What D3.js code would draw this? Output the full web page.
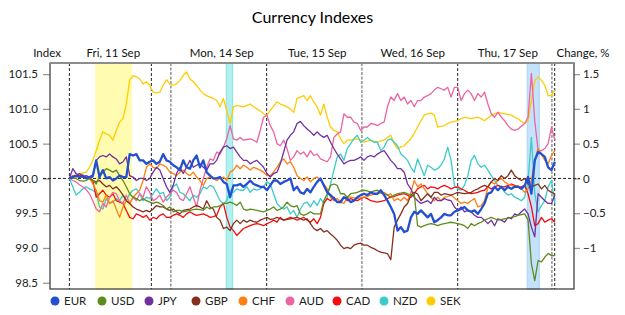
<!DOCTYPE html>
<html><head><meta charset="utf-8">
<script src="https://cdn.jsdelivr.net/npm/d3@7"></script>
<style>
html,body{margin:0;padding:0;background:#fff;}
svg{display:block;font-family:Lato,"Open Sans",sans-serif;}
</style></head>
<body><svg id="chart" width="625" height="315"></svg>
<script>
// ---------- data ----------
const currencies = ["EUR","USD","JPY","GBP","CHF","AUD","CAD","NZD","SEK"];
const seriesColors = ["#2450d0","#5e8c1c","#7030a0","#84301c","#ff7f12","#ec64a2","#f50d0d","#3ccaca","#ffcc00"];
const sampleMinutes = 50; // one value every 50 trading minutes, starting Fri 11 Sep 00:00

const EUR = [100.00,100.02,100.04,100.02,100.04,100.00,100.02,100.04,100.26,100.02,
100.12,100.00,100.02,99.97,100.00,100.04,100.02,100.02,100.35,100.33,
100.35,100.26,100.26,100.21,100.24,100.26,100.21,100.24,100.35,100.26,
100.24,100.19,100.16,100.12,100.26,100.16,100.14,100.26,100.33,100.16,
100.26,100.09,100.04,100.00,100.00,100.02,99.95,99.92,99.73,99.90,
99.90,99.92,99.88,99.92,99.97,99.92,99.90,99.88,99.88,99.83,
99.90,99.97,99.97,99.92,99.95,99.97,100.00,99.83,99.88,99.80,
99.78,99.85,99.80,99.88,99.95,100.00,99.90,99.80,99.76,99.71,
99.66,99.66,99.73,99.71,99.66,99.68,99.73,99.76,99.78,99.76,
99.80,99.78,99.78,99.83,99.76,99.68,99.59,99.49,99.25,99.30,
99.23,99.25,99.44,99.52,99.49,99.54,99.49,99.44,99.49,99.37,
99.40,99.44,99.49,99.47,99.47,99.52,99.54,99.56,99.59,99.54,
99.52,99.54,99.49,99.56,99.64,99.78,99.80,99.88,99.83,99.88,
99.83,99.88,99.85,99.88,99.88,99.85,99.90,100.02,99.78,100.26,
100.38,100.35,100.31,100.16,100.12,100.24];

const USD = [100.00,100.00,100.00,99.97,99.96,99.97,100.00,99.97,99.92,100.04,
100.09,100.14,100.12,100.09,100.12,100.04,99.97,99.88,99.78,99.73,
99.71,99.68,99.71,99.68,99.66,99.64,99.66,99.64,99.61,99.56,
99.59,99.52,99.54,99.54,99.52,99.53,99.54,99.55,99.56,99.55,
99.54,99.59,99.56,99.59,99.59,99.61,99.64,99.64,99.66,99.64,
99.61,99.66,99.56,99.54,99.56,99.55,99.54,99.53,99.52,99.54,
99.56,99.59,99.54,99.56,99.59,99.66,99.61,99.59,99.61,99.49,
99.47,99.49,99.52,99.49,99.49,99.49,99.68,99.78,99.90,99.92,
99.90,99.78,99.78,99.73,99.78,99.79,99.80,99.82,99.83,99.82,
99.80,99.82,99.83,99.80,99.78,99.76,99.73,99.76,99.78,99.79,
99.80,99.78,99.76,99.78,99.32,99.30,99.32,99.34,99.35,99.34,
99.32,99.34,99.35,99.36,99.37,99.36,99.35,99.34,99.32,99.28,
99.35,99.32,99.35,99.37,99.40,99.42,99.44,99.42,99.40,99.41,
99.42,99.43,99.44,99.45,99.47,99.48,99.49,99.40,98.77,98.53,
98.82,98.80,98.87,98.92,98.89,98.89];

const JPY = [100.00,100.14,100.07,100.04,100.02,100.04,100.02,100.02,100.26,100.31,
100.33,100.31,100.35,100.31,100.28,100.21,100.24,100.31,100.04,100.02,
99.97,100.00,100.00,99.97,100.00,100.09,100.16,100.12,100.00,99.88,
99.80,99.90,100.07,100.16,100.07,100.16,100.26,100.16,100.19,100.21,
100.16,100.12,100.21,100.21,100.26,100.38,100.45,100.47,100.43,100.45,
100.38,100.31,100.26,100.26,100.21,100.24,100.26,100.21,100.16,100.07,
100.02,100.07,100.09,100.21,100.38,100.55,100.62,100.67,100.79,100.82,
100.76,100.71,100.67,100.62,100.67,100.62,100.59,100.62,100.52,100.43,
100.35,100.28,100.21,100.24,100.26,100.26,100.28,100.31,100.26,100.31,
100.33,100.31,100.35,100.38,100.40,100.33,100.26,100.21,100.14,100.14,
100.09,99.92,99.85,99.73,99.68,99.64,99.66,99.68,99.64,99.73,
99.68,99.68,99.71,99.69,99.68,99.59,99.54,99.59,99.52,99.54,
99.52,99.47,99.44,99.44,99.40,99.35,99.40,99.32,99.42,99.40,
99.37,99.44,99.42,99.49,99.47,99.52,99.56,99.49,99.30,99.16,
99.78,99.73,99.68,99.64,99.64,99.76];

const GBP = [100.00,100.02,100.04,100.03,100.02,100.01,100.00,99.97,99.95,99.97,
99.92,99.88,99.90,99.85,99.88,99.83,99.76,99.68,99.64,99.59,
99.56,99.54,99.52,99.54,99.52,99.56,99.61,99.59,99.59,99.56,
99.54,99.56,99.52,99.49,99.54,99.55,99.56,99.59,99.61,99.59,
99.56,99.68,99.59,99.56,99.44,99.40,99.28,99.30,99.25,99.35,
99.40,99.35,99.40,99.37,99.40,99.38,99.37,99.40,99.42,99.44,
99.41,99.42,99.44,99.42,99.40,99.41,99.42,99.43,99.44,99.42,
99.40,99.42,99.35,99.28,99.25,99.28,99.23,99.25,99.20,99.16,
99.11,99.04,98.99,99.01,98.99,99.04,99.06,99.07,99.04,99.04,
99.01,98.99,98.96,98.94,98.93,98.92,98.83,99.30,99.40,99.49,
99.59,99.64,99.76,99.80,99.78,99.68,99.73,99.78,99.73,99.80,
99.80,99.76,99.78,99.77,99.76,99.78,99.80,99.79,99.78,99.79,
99.80,99.83,99.85,99.88,99.90,99.88,99.95,100.00,99.97,100.04,
100.00,100.04,100.12,100.04,100.00,99.97,100.00,99.92,99.88,99.90,
99.92,99.85,99.90,99.83,99.80,99.78];

const CHF = [100.00,100.04,100.02,100.04,100.02,100.00,100.00,99.92,99.83,99.68,
99.66,99.76,99.64,99.68,99.56,99.44,99.59,99.68,99.64,99.73,
99.78,99.83,99.97,100.16,100.21,100.16,100.14,100.21,100.19,100.16,
100.09,100.07,100.04,100.09,100.12,100.07,100.04,100.09,100.02,99.97,
99.90,100.00,100.02,100.00,99.97,100.00,100.02,99.97,100.09,100.12,
100.19,100.14,100.19,100.16,100.12,100.16,100.14,100.12,100.09,100.04,
100.04,100.09,100.16,100.24,100.28,100.21,100.24,100.16,100.04,100.00,
99.97,100.02,99.95,100.00,100.02,99.97,99.92,99.85,99.73,99.68,
99.71,99.66,99.64,99.73,99.73,99.72,99.71,99.72,99.73,99.74,
99.76,99.77,99.78,99.79,99.80,99.76,99.78,99.68,99.71,99.68,
99.73,99.68,99.80,99.97,99.88,99.92,99.85,99.78,99.73,99.68,
99.73,99.68,99.73,99.74,99.76,99.72,99.68,99.64,99.66,99.64,
99.68,99.71,99.59,99.61,99.68,99.88,99.95,99.92,99.97,100.00,
99.95,99.92,99.90,99.88,99.90,99.85,99.80,99.85,99.97,100.26,
100.43,100.35,100.26,100.21,100.33,100.40];

const AUD = [100.00,99.97,99.95,99.91,99.88,99.84,99.78,99.68,99.56,99.52,
99.64,99.59,99.73,99.80,99.78,99.68,99.64,99.76,99.64,99.73,
99.68,99.78,99.73,99.88,99.80,99.68,99.71,99.76,99.66,99.73,
99.78,99.83,99.80,99.71,99.68,99.78,99.88,99.73,99.59,99.83,
100.00,100.16,100.28,100.26,100.38,100.35,100.45,100.57,100.76,100.57,
100.55,100.59,100.55,100.56,100.57,100.55,100.52,100.69,100.88,100.91,
100.76,100.67,100.50,100.47,100.55,100.43,100.26,100.31,100.40,100.35,
100.38,100.31,100.40,100.33,100.35,100.28,100.26,100.24,100.31,100.59,
100.64,100.67,100.93,100.88,100.88,100.81,100.79,100.69,100.74,100.74,
100.79,100.78,100.76,100.79,100.81,101.03,101.17,101.12,101.22,101.12,
101.17,101.07,101.12,101.03,101.12,101.12,101.17,101.19,101.22,101.27,
101.31,101.29,101.27,101.31,101.17,101.31,101.31,101.12,101.22,101.27,
101.22,101.12,101.22,101.17,101.24,101.07,100.93,100.88,100.95,100.88,
100.83,100.76,100.71,100.69,100.71,100.75,100.79,100.88,101.51,100.83,
100.40,100.40,100.43,100.50,100.74,100.55];

const CAD = [100.00,100.04,100.04,100.07,100.04,100.02,100.02,99.97,99.73,99.78,
99.83,99.76,99.73,99.78,99.68,99.66,99.64,99.54,99.44,99.42,
99.49,99.47,99.44,99.47,99.40,99.44,99.42,99.47,99.49,99.44,
99.44,99.47,99.49,99.47,99.44,99.49,99.52,99.49,99.47,99.48,
99.49,99.47,99.44,99.45,99.47,99.59,99.64,99.44,99.30,99.25,
99.18,99.23,99.28,99.30,99.32,99.34,99.35,99.34,99.32,99.35,
99.37,99.40,99.37,99.44,99.40,99.42,99.44,99.42,99.40,99.42,
99.44,99.40,99.37,99.42,99.35,99.44,99.64,99.71,99.68,99.73,
99.66,99.68,99.73,99.68,99.71,99.69,99.68,99.71,99.73,99.71,
99.68,99.67,99.66,99.67,99.68,99.71,99.73,99.74,99.76,99.77,
99.78,99.76,99.73,99.78,99.85,99.88,99.90,99.85,99.88,99.87,
99.85,99.88,99.90,99.88,99.85,99.87,99.88,99.85,99.83,99.80,
99.78,99.79,99.80,99.82,99.83,99.88,99.85,99.88,99.90,99.88,
99.88,99.90,99.92,99.90,99.88,99.88,99.90,99.78,99.59,99.32,
99.35,99.44,99.37,99.40,99.42,99.37];

const NZD = [100.00,99.88,99.76,99.80,99.85,99.88,99.85,99.83,99.80,99.59,
99.56,99.71,99.64,99.66,99.71,99.68,99.76,99.68,99.78,99.83,
99.85,99.78,99.68,99.73,99.71,99.78,99.85,99.78,99.80,99.68,
99.73,99.88,99.92,99.80,99.78,99.73,99.68,99.76,99.73,99.78,
99.88,99.85,99.90,99.88,99.78,99.68,99.64,99.68,99.83,99.80,
99.85,99.83,99.83,99.88,99.80,99.85,99.83,99.85,99.88,99.95,
99.92,99.78,99.64,99.59,99.56,99.59,99.49,99.54,99.44,99.56,
99.64,99.66,99.59,99.68,99.61,99.71,99.64,99.73,99.92,100.12,
100.31,100.35,100.26,100.43,100.50,100.57,100.62,100.52,100.55,100.59,
100.55,100.52,100.52,100.40,100.45,100.55,100.57,100.52,100.47,100.35,
100.31,100.26,100.16,100.09,100.28,100.16,100.04,100.19,100.16,100.12,
100.14,100.19,100.28,100.45,100.26,99.90,99.85,99.83,99.90,100.04,
100.26,100.33,100.21,100.16,100.19,100.12,100.04,99.97,99.90,99.88,
99.80,99.76,99.78,99.73,99.71,99.68,99.73,99.97,100.59,99.78,
99.52,99.61,99.68,99.88,99.97,99.64];

const SEK = [100.00,100.02,100.04,100.06,100.08,100.09,100.16,100.26,100.40,100.55,
100.67,100.64,100.62,100.55,100.69,100.81,100.86,101.07,101.41,101.48,
101.46,101.43,101.36,101.39,101.34,101.24,101.23,101.24,101.34,101.42,
101.36,101.34,101.36,101.41,101.48,101.53,101.43,101.39,101.34,101.27,
101.22,101.19,101.17,101.15,101.12,101.03,101.15,100.98,100.79,101.03,
101.05,101.04,101.03,101.05,101.07,101.03,101.00,100.97,100.93,100.91,
100.98,101.04,101.10,101.07,101.05,101.03,101.00,100.95,101.15,101.17,
101.19,101.12,101.19,101.10,101.03,100.91,101.07,100.88,100.74,100.69,
100.67,100.57,100.50,100.55,100.55,100.56,100.57,100.55,100.52,100.54,
100.55,100.53,100.52,100.54,100.55,100.59,100.62,100.50,100.43,100.45,
100.47,100.52,100.57,100.65,100.74,100.83,100.91,100.93,100.94,100.91,
100.74,100.75,100.76,100.79,100.81,100.82,100.83,100.86,100.88,100.87,
100.86,100.87,100.88,100.86,100.83,100.87,100.91,100.93,100.95,100.94,
100.93,100.92,100.91,100.88,100.86,100.82,100.79,100.83,101.12,101.41,
101.46,101.41,101.34,101.19,101.19,101.27];

const seriesValues = [EUR, USD, JPY, GBP, CHF, AUD, CAD, NZD, SEK];

// time axis (hours of trading time since Fri 11 Sep 00:00, weekend collapsed)
const dayLabels = ["Fri, 11 Sep","Mon, 14 Sep","Tue, 15 Sep","Wed, 16 Sep","Thu, 17 Sep"];
const dayStartHours = [0, 25.25, 49.1, 72.8, 96.65];
const dayEndHours = [20.4, 49.1, 72.8, 96.65, 120.1];
const dividerHours = [0, 20.4, 25.25, 49.1, 72.8, 96.65, 120.1, 120.8];
const dividerMajor = [true, true, false, true, false, true, false, true];
const bandStartHours = [6.55, 39.05, 113.96];
const bandEndHours = [15.5, 40.64, 116.95];
const bandFills = ["#fffbb0", "#b2f0f0", "#c4e2fc"];
const bandStrokes = ["#fffbb0", "#86e2e2", "#a9d3f7"];
const hourDomain = [-4.83, 125.6];
const indexDomain = [98.41, 101.66];
const indexTicks = [98.5, 99, 99.5, 100, 100.5, 101, 101.5];
const changeTicks = [1.5, 1, 0.5, 0, -0.5, -1];

// ---------- drawing ----------
const svg = d3.select("#chart");
const L = 50, R = 574, T = 63, B = 289;
const x = d3.scaleLinear().domain(hourDomain).range([L, R]);
const y = d3.scaleLinear().domain(indexDomain).range([B, T]);
const yChange = d3.scaleLinear().domain([indexDomain[0]-100, indexDomain[1]-100]).range([B, T]);

svg.append("text").attr("x", 312.5).attr("y", 23).attr("text-anchor","middle")
  .attr("font-size", 16).attr("fill","#000").text("Currency Indexes");

svg.append("clipPath").attr("id","plotclip").append("rect")
  .attr("x", L).attr("y", T).attr("width", R-L).attr("height", B-T);

// bands
bandStartHours.forEach((s,i)=>{
  svg.append("rect").attr("x", x(s)).attr("y", T).attr("width", x(bandEndHours[i])-x(s))
    .attr("height", B-T).attr("fill", bandFills[i]).attr("stroke", bandStrokes[i]).attr("stroke-width",1);
});

// vertical dividers
dividerHours.forEach((h,i)=>{
  svg.append("line").attr("x1", x(h)).attr("x2", x(h)).attr("y1", T).attr("y2", B)
    .attr("stroke", dividerMajor[i] ? "#222" : "#999")
    .attr("stroke-width", dividerMajor[i] ? 1 : 1.6)
    .attr("stroke-dasharray", dividerMajor[i] ? "3,2" : "3,1.5");
});

// left axis
const gL = svg.append("g").attr("transform", `translate(${L},0)`)
  .call(d3.axisLeft(y).tickValues(indexTicks).tickSize(7).tickPadding(5).tickFormat(d3.format(".1f")));
gL.select(".domain").remove();
gL.selectAll(".tick line").attr("stroke","#999").attr("stroke-width",1.3);
gL.selectAll(".tick text").attr("font-size",11.5).attr("fill","#222").attr("font-family","Lato,'Open Sans',sans-serif");

// right axis
const gR = svg.append("g").attr("transform", `translate(${R},0)`)
  .call(d3.axisRight(yChange).tickValues(changeTicks).tickSize(6).tickPadding(3).tickFormat(d3.format("")));
gR.select(".domain").remove();
gR.selectAll(".tick line").attr("stroke","#999").attr("stroke-width",1.3);
gR.selectAll(".tick text").attr("font-size",11.5).attr("fill","#222").attr("font-family","Lato,'Open Sans',sans-serif");

// zero line
svg.append("line").attr("x1", L-7).attr("x2", R+6).attr("y1", y(100)).attr("y2", y(100))
  .attr("stroke","#222").attr("stroke-width",1).attr("stroke-dasharray","3,2");

// series lines
const line = d3.line().x((d,i)=>x(i*sampleMinutes/60)).y(d=>y(d));
const gLines = svg.append("g").attr("clip-path","url(#plotclip)");
for (let k = currencies.length-1; k >= 0; k--) {
  gLines.append("path").datum(seriesValues[k]).attr("d", line)
    .attr("fill","none").attr("stroke", seriesColors[k])
    .attr("stroke-width", currencies[k]==="EUR" ? 2.3 : 1.3)
    .attr("stroke-linejoin","round");
}

// frame
svg.append("rect").attr("x", L).attr("y", T).attr("width", R-L).attr("height", B-T)
  .attr("fill","none").attr("stroke","#333").attr("stroke-width",1.2);
svg.append("line").attr("x1", L).attr("x2", R).attr("y1", T).attr("y2", T)
  .attr("stroke","#8c8c8c").attr("stroke-width",2.2);

// header labels
const hdr = svg.append("g").attr("font-size",11.5).attr("fill","#111");
hdr.append("text").attr("x", 47).attr("y", 57).attr("text-anchor","middle").text("Index");
hdr.append("text").attr("x", 583).attr("y", 57).attr("text-anchor","middle").text("Change, %");
dayLabels.forEach((lab,i)=>{
  hdr.append("text").attr("x", x((dayStartHours[i]+dayEndHours[i])/2)+3).attr("y",57)
    .attr("text-anchor","middle").text(lab);
});

// legend
const lg = svg.append("g");
currencies.forEach((c,i)=>{
  const gx = 55 + i*47;
  lg.append("circle").attr("cx", gx).attr("cy", 301).attr("r", 4.5).attr("fill", seriesColors[i]);
  lg.append("text").attr("x", gx+9).attr("y", 305).attr("font-size",11.5).attr("fill","#222").text(c);
});
</script></body></html>
